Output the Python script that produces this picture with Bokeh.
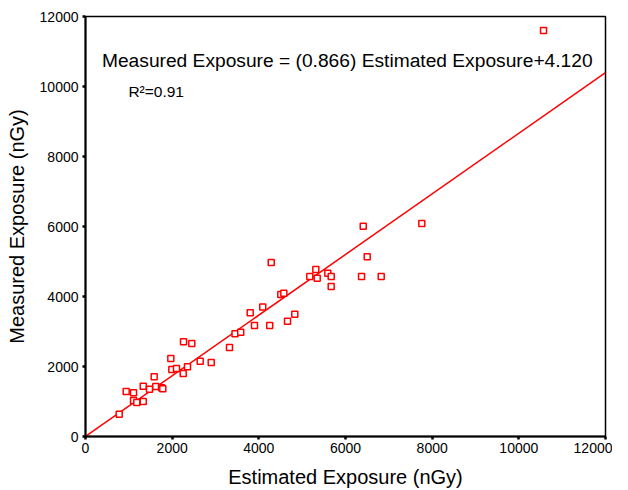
from bokeh.plotting import figure
from bokeh.models import Range1d, Label, FixedTicker, ColumnDataSource
from bokeh.embed import file_html
from bokeh.resources import INLINE

# Data
estimated = [778, 939, 1108, 1108, 1184, 1332, 1332, 1477, 1585, 1622, 1754, 1784,
             1969, 1992, 2100, 2262, 2453, 2255, 2354, 2647, 2901, 3323, 3450, 3582,
             3801, 3900, 4090, 4251, 4286, 4507, 4577, 4662, 4830, 5176, 5315, 5347,
             5592, 5670, 5670, 6370, 6824, 6501, 6409, 7761, 10570]
measured = [637, 1286, 1249, 1029, 971, 1000, 1437, 1351, 1706, 1429, 1391, 1363,
            2229, 1914, 1943, 2706, 2657, 1800, 1991, 2151, 2114, 2543, 2937, 2980,
            3537, 3171, 3700, 3171, 4971, 4057, 4094, 3294, 3494, 4571, 4771, 4523,
            4666, 4571, 4286, 4571, 4571, 5134, 6009, 6086, 11600]

slope = 0.866
intercept = 4.120
r_squared = 0.91
fit_x = [0, 12000]
fit_y = [slope * v + intercept for v in fit_x]

ticks = [0, 2000, 4000, 6000, 8000, 10000, 12000]

FONT = "Liberation Sans"

p = figure(width=612, height=490, output_backend="svg", toolbar_location=None,
           x_range=Range1d(0, 12000), y_range=Range1d(0, 12000),
           min_border_left=85, min_border_right=7, min_border_top=16,
           min_border_bottom=54)

p.background_fill_color = "white"
p.border_fill_color = "white"
p.outline_line_color = "black"
p.outline_line_width = 1.5
p.xgrid.visible = False
p.ygrid.visible = False

for ax in (p.xaxis[0], p.yaxis[0]):
    ax.ticker = FixedTicker(ticks=ticks)
    ax.axis_line_width = 2
    ax.axis_line_color = "black"
    ax.major_tick_in = 0
    ax.major_tick_out = 3
    ax.major_tick_line_width = 2.5
    ax.minor_tick_line_color = None
    ax.major_label_text_font = FONT
    ax.major_label_text_font_size = "14px"
    ax.major_label_text_color = "black"
    ax.axis_label_text_font = FONT
    ax.axis_label_text_font_size = "20px"
    ax.axis_label_text_font_style = "normal"
    ax.axis_label_text_color = "black"

p.xaxis.axis_label = "Estimated Exposure (nGy)"
p.yaxis.axis_label = "Measured Exposure (nGy)"
p.xaxis.major_label_standoff = 3
p.xaxis.axis_label_standoff = 10
p.yaxis.major_label_standoff = 4
p.yaxis.axis_label_standoff = 9

p.line(fit_x, fit_y, line_color="#ff0000", line_width=1.5)

src = ColumnDataSource(dict(x=estimated, y=measured))
p.scatter("x", "y", source=src, marker="square", size=6,
          fill_color="white", line_color="#ff0000", line_width=1.5)

eq = Label(x=380, y=10740,
           text="Measured Exposure = (%.3f) Estimated Exposure+%.3f" % (slope, intercept),
           text_font=FONT, text_font_size="19.2px", text_color="black",
           text_baseline="middle")
r2 = Label(x=990, y=9860, text="R\u00b2=%.2f" % r_squared,
           text_font=FONT, text_font_size="15.5px", text_color="black",
           text_baseline="middle")
p.add_layout(eq)
p.add_layout(r2)

open("out.html", "w").write(file_html(p, INLINE))
